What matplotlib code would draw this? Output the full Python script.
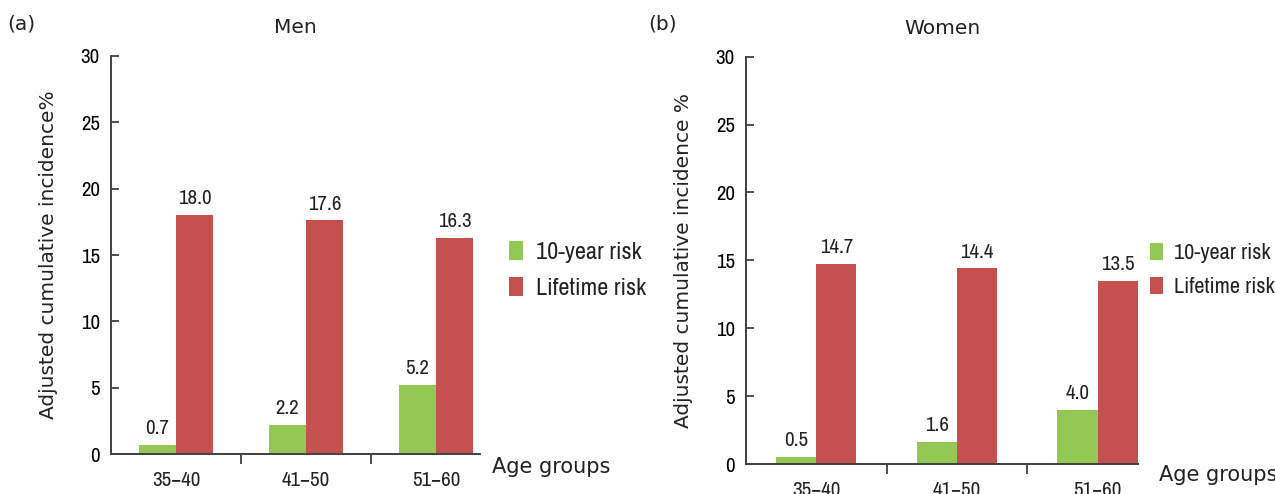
import matplotlib
matplotlib.use("Agg")
import matplotlib.pyplot as plt
from matplotlib import font_manager
import numpy as np

categories = ["35\u221240", "41\u221250", "51\u221260"]
men_10yr = [0.7, 2.2, 5.2]
men_life = [18.0, 17.6, 16.3]
women_10yr = [0.5, 1.6, 4.0]
women_life = [14.7, 14.4, 13.5]
yticks = [0, 5, 10, 15, 20, 25, 30]

GREEN = "#92C853"
RED = "#C55050"
AXC = "#404040"
names = sorted({f.name for f in font_manager.fontManager.ttflist})
cond = [n for n in names if "Condensed" in n or "Narrow" in n]
NARROW = (cond[:1] if cond else []) + ["DejaVu Sans"]
WIDE = ["DejaVu Sans"]

fig = plt.figure(figsize=(12.75, 4.94), dpi=100)

def panel(rect, s1, s2, title, ylabel, letter, letter_xy, agexy, legxy, legsize, rxlim):
    ax = fig.add_axes(rect)
    x = np.arange(len(categories))
    w = 0.285
    b1 = ax.bar(x - w / 2, s1, w, color=GREEN, label="10-year risk")
    b2 = ax.bar(x + w / 2, s2, w, color=RED, label="Lifetime risk")
    for bars, vals in ((b1, s1), (b2, s2)):
        for r, v in zip(bars, vals):
            ax.annotate(f"{v:.1f}", (r.get_x() + r.get_width() / 2, v),
                        xytext=(0, 5), textcoords="offset points",
                        ha="center", va="bottom", fontsize=15,
                        family=NARROW, color="#222222")
    ax.set_ylim(0, 30)
    ax.set_xlim(-0.5, rxlim)
    ax.set_yticks(yticks)
    ax.set_yticklabels([str(t) for t in yticks], family=NARROW, fontsize=15)
    ax.set_xticks([0.5, 1.5])
    ax.set_xticklabels([])
    ax.tick_params(axis="x", direction="out", length=7, width=1.3, color=AXC)
    ax.tick_params(axis="y", direction="in", length=6, width=1.3, color=AXC, pad=8)
    for i, c in enumerate(categories):
        ax.annotate(c, (i, 0), xycoords=("data", "axes fraction"),
                    xytext=(0, -12), textcoords="offset points",
                    ha="center", va="top", fontsize=15, family=NARROW,
                    color="#222222", annotation_clip=False)
    for s in ("top", "right"):
        ax.spines[s].set_visible(False)
    for s in ("left", "bottom"):
        ax.spines[s].set_color(AXC)
        ax.spines[s].set_linewidth(1.4)
    ax.spines["left"].set_bounds(0, 30)
    ax.set_ylabel(ylabel, fontsize=14.5, family=WIDE, color="#222222", labelpad=16)
    ax.set_title(title, fontsize=14.5, family=WIDE, color="#222222", pad=16)
    fig.text(letter_xy[0], letter_xy[1], letter, fontsize=14.5, family=WIDE,
             color="#222222", ha="left", va="center")
    fig.text(agexy[0], agexy[1], "Age groups", fontsize=15, family=WIDE,
             color="#222222", ha="left", va="center")
    leg = ax.legend(loc="center left", bbox_to_anchor=legxy,
                    bbox_transform=fig.transFigure, frameon=False,
                    prop={"family": NARROW, "size": legsize}, handlelength=0.6,
                    handleheight=0.8, handletextpad=0.5, labelspacing=0.6)
    for t in leg.get_texts():
        t.set_color("#222222")
    return ax

panel([111 / 1275, (494 - 454.3) / 494, 369.3 / 1275, 398.6 / 494],
      men_10yr, men_life, "Men", "Adjusted cumulative incidence%",
      "(a)", (7 / 1275, 1 - 24 / 494), (492 / 1275, 1 - 467 / 494),
      (487 / 1275, 1 - 270 / 494), 17.5, 2.34)
panel([746 / 1275, (494 - 464) / 494, 392.3 / 1275, 407.3 / 494],
      women_10yr, women_life, "Women", "Adjusted cumulative incidence %",
      "(b)", (648 / 1275, 1 - 24 / 494), (1159 / 1275, 1 - 475 / 494),
      (1130 / 1275, 1 - 270 / 494), 16, 2.29)

fig.savefig("out.png", dpi=100)
